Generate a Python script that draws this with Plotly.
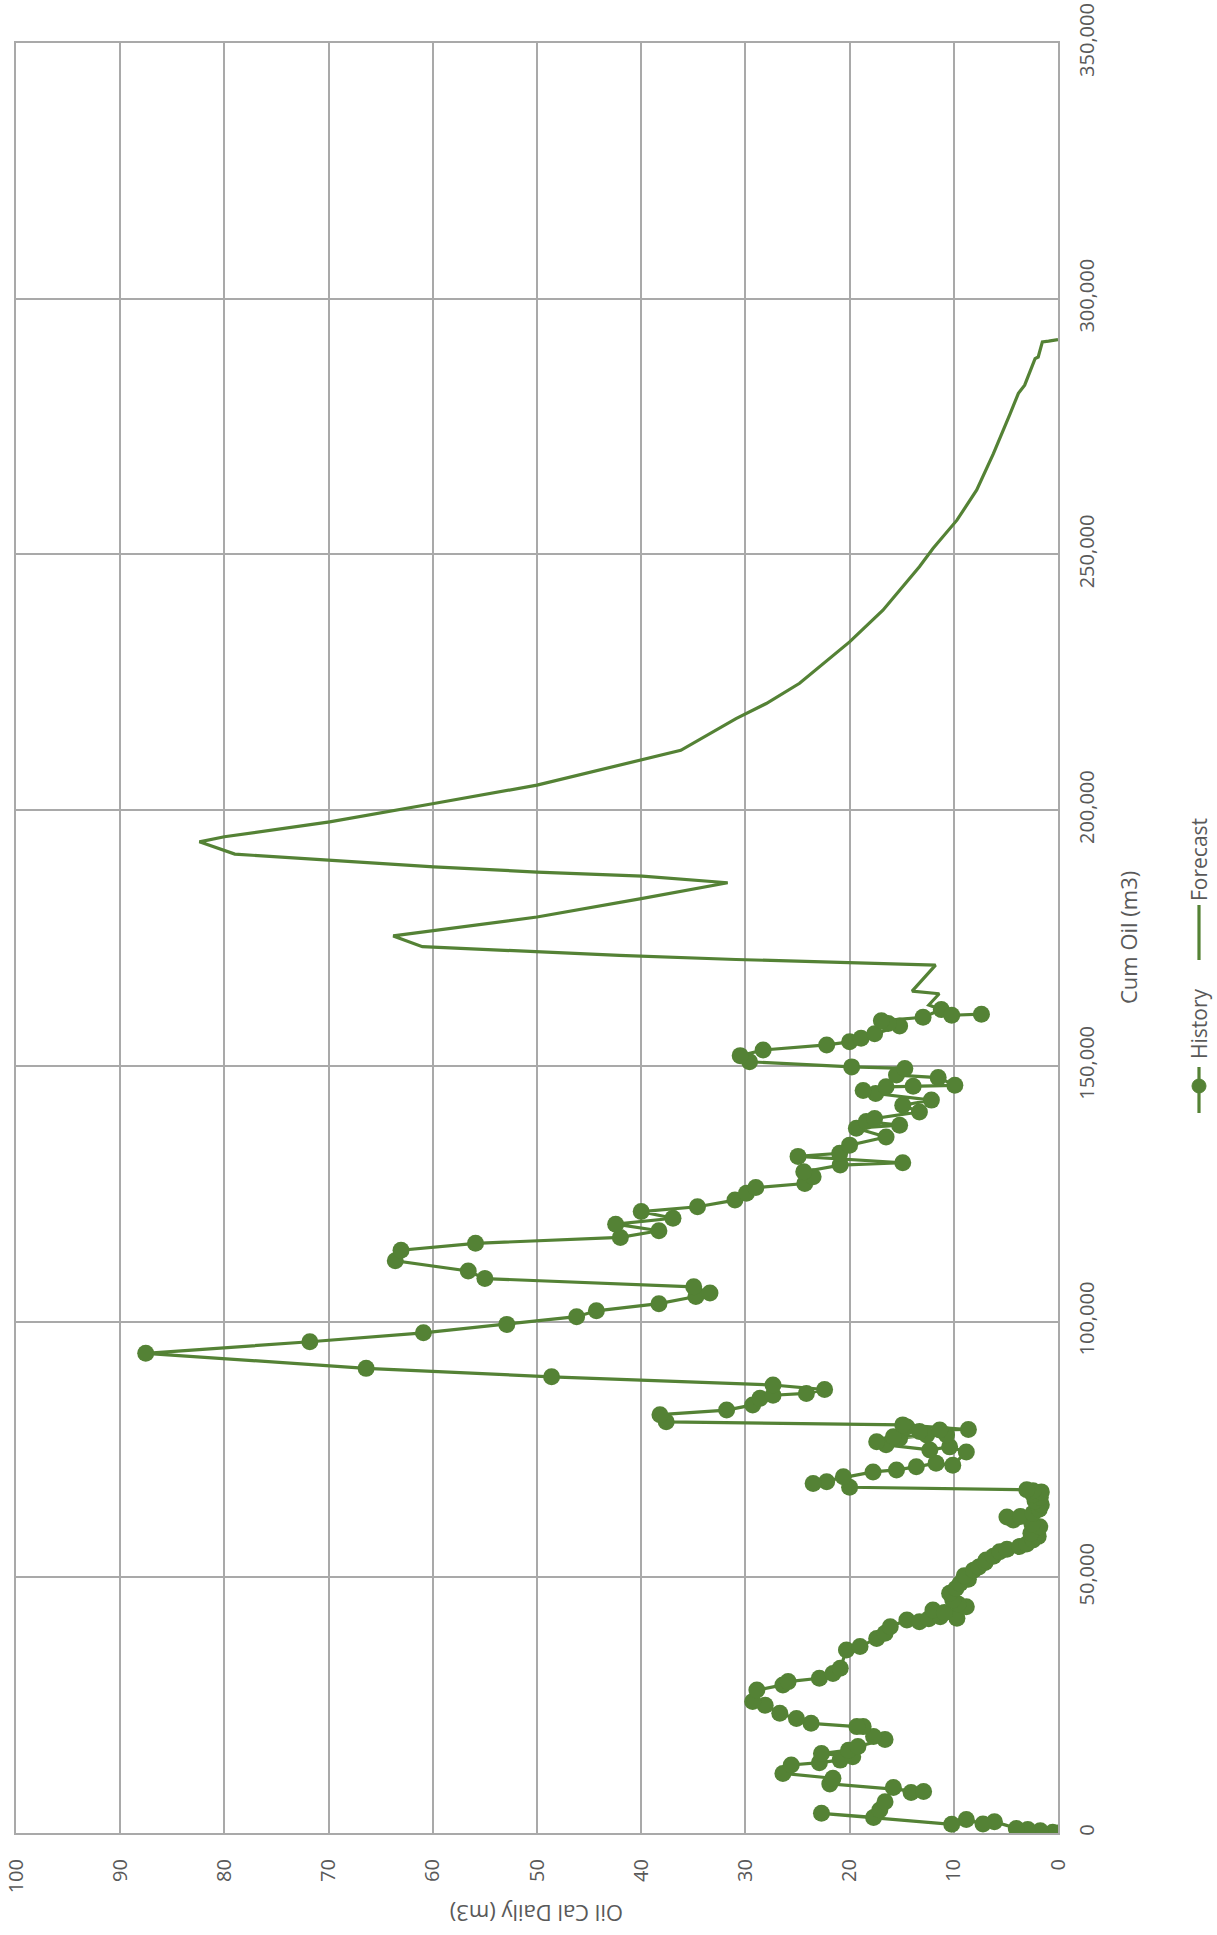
import plotly.graph_objects as go

# ---- data (Oil Cal Daily m3 vs Cum Oil m3) ----
hist_oil = [0.0, 0.5, 1.7, 2.9, 4.0, 6.1, 7.2, 8.8, 10.2, 22.7, 17.7, 17.1, 16.6, 15.8, 14.1, 12.9,
            21.9, 21.6, 26.4, 25.6, 22.9, 20.9, 19.7, 22.7, 20.1, 19.2, 16.6, 17.7, 18.7, 19.3,
            23.7, 25.1, 26.7, 28.1, 29.3, 28.9, 26.4, 25.9, 22.9, 21.6, 20.9, 20.3, 19.0, 17.4,
            16.6, 16.1, 14.5, 13.3, 12.4, 9.7, 11.3, 12.0, 10.9, 8.8, 9.6, 10.1, 10.4, 9.8, 9.4, 8.6, 9.0, 8.1,
            7.6, 7.0, 6.9, 6.2, 5.6, 4.9, 3.7, 3.0, 2.4, 1.9, 2.6, 1.75, 2.5, 4.3, 4.9, 3.6, 2.4,
            1.8, 1.6, 2.2, 1.7, 2.4, 1.6, 2.4, 3.0,
            20.0, 20.6, 22.2, 23.5, 17.75, 15.5, 13.6, 11.7, 10.1, 8.8, 10.4, 12.3, 16.5, 17.4,
            15.2, 12.6, 10.7, 15.8, 14.5, 13.3, 11.35, 8.6, 14.9,
            37.6, 38.2, 31.8, 29.3, 28.6, 27.35, 24.15, 22.4, 27.35, 48.6, 66.4, 87.55, 71.8,
            60.9, 52.9, 46.2, 44.3, 38.3, 34.75, 33.4, 34.96, 55.0, 56.6, 63.6, 63.05, 55.9,
            42.0, 38.3, 42.45, 36.95, 40.0, 34.6, 31.0, 29.9, 29.0, 24.3, 23.5, 24.4, 20.9, 14.9,
            24.95, 20.95, 20.0, 16.5, 19.35, 15.2, 18.4, 17.6, 13.3, 14.9, 12.15, 17.5, 18.7,
            16.5, 13.9, 9.9, 11.5, 15.5, 14.7, 19.8, 29.6, 30.5, 28.3, 22.2, 20.0, 18.9, 17.6,
            15.2, 16.3, 16.95, 12.95, 11.2, 10.2, 7.35]
hist_cum = [0, 130, 450, 700, 900, 2200, 1750, 2650, 1700, 3850, 3050, 4500, 6100, 8900, 7900, 8100,
            9600, 10700, 11650, 13300, 13750, 14250, 14900, 15550, 16200, 16900, 18300, 18850, 20800, 20800,
            21450, 22400, 23400, 25000, 25700, 27950, 28950, 29600, 30250, 31200, 32200, 35800, 36450, 38050,
            39050, 40350, 41650, 41300, 41900, 42000, 42300, 43600, 43100, 44250, 44800, 45550, 46900, 47800, 48800, 49600, 50300, 51400,
            52000, 52900, 53400, 54100, 55000, 55500, 56000, 56500, 57300, 58000, 58600, 59900, 60400, 61200, 61800, 61900, 62500,
            63300, 64200, 64900, 65600, 66200, 66700, 66900, 67100,
            67600, 69650, 68700, 68350, 70600, 71000, 71600, 72300, 71900, 74500, 75500, 74900, 75900, 76500,
            77200, 77800, 77800, 77500, 79400, 78500, 78800, 78900, 79800,
            80400, 81800, 82700, 83700, 85000, 85600, 85950, 86700, 87600, 89200, 90850, 93800, 96050,
            97800, 99450, 100950, 102100, 103500, 104900, 105600, 106800, 108400, 109900, 111900, 113950, 115300,
            116450, 117750, 119050, 120200, 121500, 122450, 123750, 125100, 126200, 127000, 128300, 129300, 130600, 131050,
            132300, 132900, 134500, 136100, 137800, 138400, 139100, 139700, 141000, 142300, 143300, 144600, 145200,
            145900, 146000, 146200, 147700, 148200, 149500, 149800, 150800, 152000, 153100, 154100, 154700, 155400, 156300,
            157800, 158300, 158800, 159500, 161000, 159900, 160100]

fc_oil = [11.5, 12.4, 11.4, 14.0, 11.75, 19.6, 30.9, 42.1, 53.4, 61.0, 63.8, 50.0, 40.0, 31.7, 39.9, 50.0,
          59.9, 69.9, 79.0, 82.4, 80.0, 69.9, 63.0, 59.9, 50.0, 40.0, 36.2, 30.9, 28.0, 24.8, 20.0, 16.8,
          13.3, 12.0, 9.7, 7.8, 6.2, 4.6, 3.8, 3.2, 2.7, 2.2, 1.9, 1.5, 0.9, 0.0]
fc_cum = [161200, 161900, 164100, 164600, 169700, 170100, 170800, 171600, 172600, 173300, 175400, 179100,
          182700, 185800, 187100, 187900, 188900, 190200, 191400, 193800, 194800, 197700, 200100, 201300,
          204900, 209800, 211700, 217900, 220850, 224800, 232900, 239100, 247600, 251150, 256700, 262600,
          269700, 277500, 281500, 283100, 285700, 288300, 288600, 291550, 291700, 292000]

oil_ticks = list(range(0, 101, 10))
cum_ticks = list(range(0, 350001, 50000))

GREEN = "#548235"
GRID = "#a9a9a9"
TXT = "#595959"
FONT = "Open Sans"

W, H = 1217, 1935
L, R, T, B = 16, 159, 43, 102


def px(x):
    return (x - L) / (W - L - R)


def py(y):
    return (H - B - y) / (H - T - B)


fig = go.Figure()
fig.add_trace(go.Scatter(x=hist_oil, y=hist_cum, mode="lines+markers", name="History",
                         line=dict(color=GREEN, width=3.2),
                         marker=dict(color=GREEN, size=17), showlegend=False))
fig.add_trace(go.Scatter(x=fc_oil, y=fc_cum, mode="lines", name="Forecast",
                         line=dict(color=GREEN, width=3.2), showlegend=False))

axis_common = dict(showgrid=True, gridcolor=GRID, gridwidth=2, showline=True, linecolor=GRID,
                   linewidth=2, mirror=True, zeroline=False, ticks="outside",
                   tickcolor="rgba(0,0,0,0)", tickangle=-90, automargin=False,
                   tickfont=dict(family=FONT, size=20, color=TXT))

fig.update_xaxes(range=[100, 0], tickvals=oil_ticks, ticktext=[str(v) for v in oil_ticks],
                 ticklen=16, **axis_common)
fig.update_yaxes(range=[0, 350000], side="right", tickvals=cum_ticks,
                 ticktext=[f"{v:,}" for v in cum_ticks], ticklen=10, **axis_common)

annotations = [
    dict(text="Cum Oil (m3)", x=px(1128), y=py(938), textangle=-90,
         font=dict(family=FONT, size=22, color=TXT)),
    dict(text="Oil Cal Daily (m3)", x=px(537), y=py(1914), textangle=180,
         font=dict(family=FONT, size=22, color=TXT)),
    dict(text="History", x=px(1199), y=py(1024), textangle=-90,
         font=dict(family=FONT, size=21, color=TXT)),
    dict(text="Forecast", x=px(1199), y=py(860), textangle=-90,
         font=dict(family=FONT, size=21, color=TXT)),
]
for a in annotations:
    a.update(xref="paper", yref="paper", showarrow=False, xanchor="center", yanchor="middle")

shapes = [
    dict(type="line", x0=px(1199), x1=px(1199), y0=py(1067), y1=py(1113),
         line=dict(color=GREEN, width=3.2)),
    dict(type="circle", x0=px(1192), x1=px(1206), y0=py(1079), y1=py(1093),
         fillcolor=GREEN, line=dict(color=GREEN, width=1)),
    dict(type="line", x0=px(1199), x1=px(1199), y0=py(905), y1=py(960),
         line=dict(color=GREEN, width=3.2)),
]
for s in shapes:
    s.update(xref="paper", yref="paper")

fig.update_layout(width=W, height=H, autosize=False,
                  margin=dict(l=L, r=R, t=T, b=B, pad=0),
                  paper_bgcolor="white", plot_bgcolor="white",
                  annotations=annotations, shapes=shapes,
                  font=dict(family=FONT, color=TXT))

fig.write_html("out.html")
